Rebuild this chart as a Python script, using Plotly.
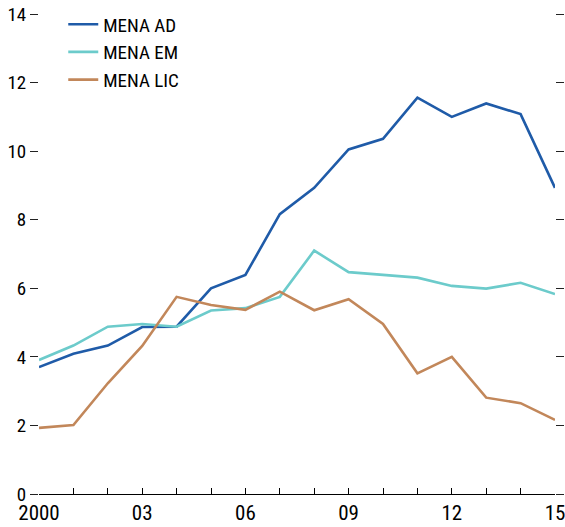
import plotly.graph_objects as go

years = list(range(2000, 2016))
mena_ad = [3.70, 4.09, 4.33, 4.87, 4.88, 6.00, 6.39, 8.16, 8.93, 10.05, 10.36, 11.56, 11.00, 11.39, 11.08, 8.93]
mena_em = [3.91, 4.33, 4.88, 4.96, 4.88, 5.35, 5.42, 5.75, 7.10, 6.47, 6.39, 6.31, 6.07, 5.99, 6.16, 5.83]
mena_lic = [1.93, 2.01, 3.23, 4.32, 5.75, 5.51, 5.37, 5.90, 5.36, 5.68, 4.96, 3.52, 4.00, 2.81, 2.65, 2.16]

series_names = ["MENA AD", "MENA EM", "MENA LIC"]
colors = ["#1F5BA8", "#6CCBCB", "#C2875A"]

x_tickvals = years
x_ticktext = ["2000" if y == 2000 else (f"{y % 100:02d}" if (y - 2000) % 3 == 0 else "") for y in years]
y_tickvals = [0, 2, 4, 6, 8, 10, 12, 14]

FONT = "Liberation Sans Narrow, Roboto Condensed, Arial Narrow, sans-serif"

fig = go.Figure()
for name, vals, c in zip(series_names, [mena_ad, mena_em, mena_lic], colors):
    fig.add_trace(go.Scatter(x=years, y=vals, mode="lines", name=name,
                             line=dict(color=c, width=2.6), hoverinfo="skip"))
# invisible trace to display the right-hand tick axis
fig.add_trace(go.Scatter(x=[years[0]], y=[0], yaxis="y2", mode="lines",
                         showlegend=False, hoverinfo="skip", line=dict(width=0)))

fig.update_layout(
    width=565, height=527,
    margin=dict(l=39, r=10, t=14, b=33, autoexpand=False),
    paper_bgcolor="white", plot_bgcolor="white",
    font=dict(family=FONT, color="black"),
    showlegend=True,
    legend=dict(x=0.047, y=1.018, xanchor="left", yanchor="top",
                bgcolor="rgba(0,0,0,0)", font=dict(size=19, family=FONT),
                tracegroupgap=0),
    xaxis=dict(range=[2000, 2015], tickvals=x_tickvals, ticktext=x_ticktext,
               ticks="inside", ticklen=6, tickcolor="black", tickwidth=1,
               showline=True, linecolor="black", linewidth=1,
               showgrid=False, zeroline=False, automargin=False,
               ticklabeloverflow="allow",
               tickfont=dict(size=21, family=FONT)),
    yaxis=dict(range=[0, 14], tickvals=y_tickvals, ticks="outside", ticklen=8,
               tickcolor="#222", tickwidth=1, showline=False, showgrid=False,
               zeroline=False, automargin=False, ticklabeloverflow="allow",
               tickfont=dict(size=19, family=FONT)),
    yaxis2=dict(range=[0, 14], tickvals=y_tickvals, overlaying="y", side="right",
                ticks="outside", ticklen=8, tickcolor="#222", tickwidth=1,
                showticklabels=False, showline=False, showgrid=False, zeroline=False,
                automargin=False),
)

fig.write_html("out.html",
               config={"displayModeBar": False},
               post_script="document.body.style.margin='0';document.body.style.overflow='hidden';")
